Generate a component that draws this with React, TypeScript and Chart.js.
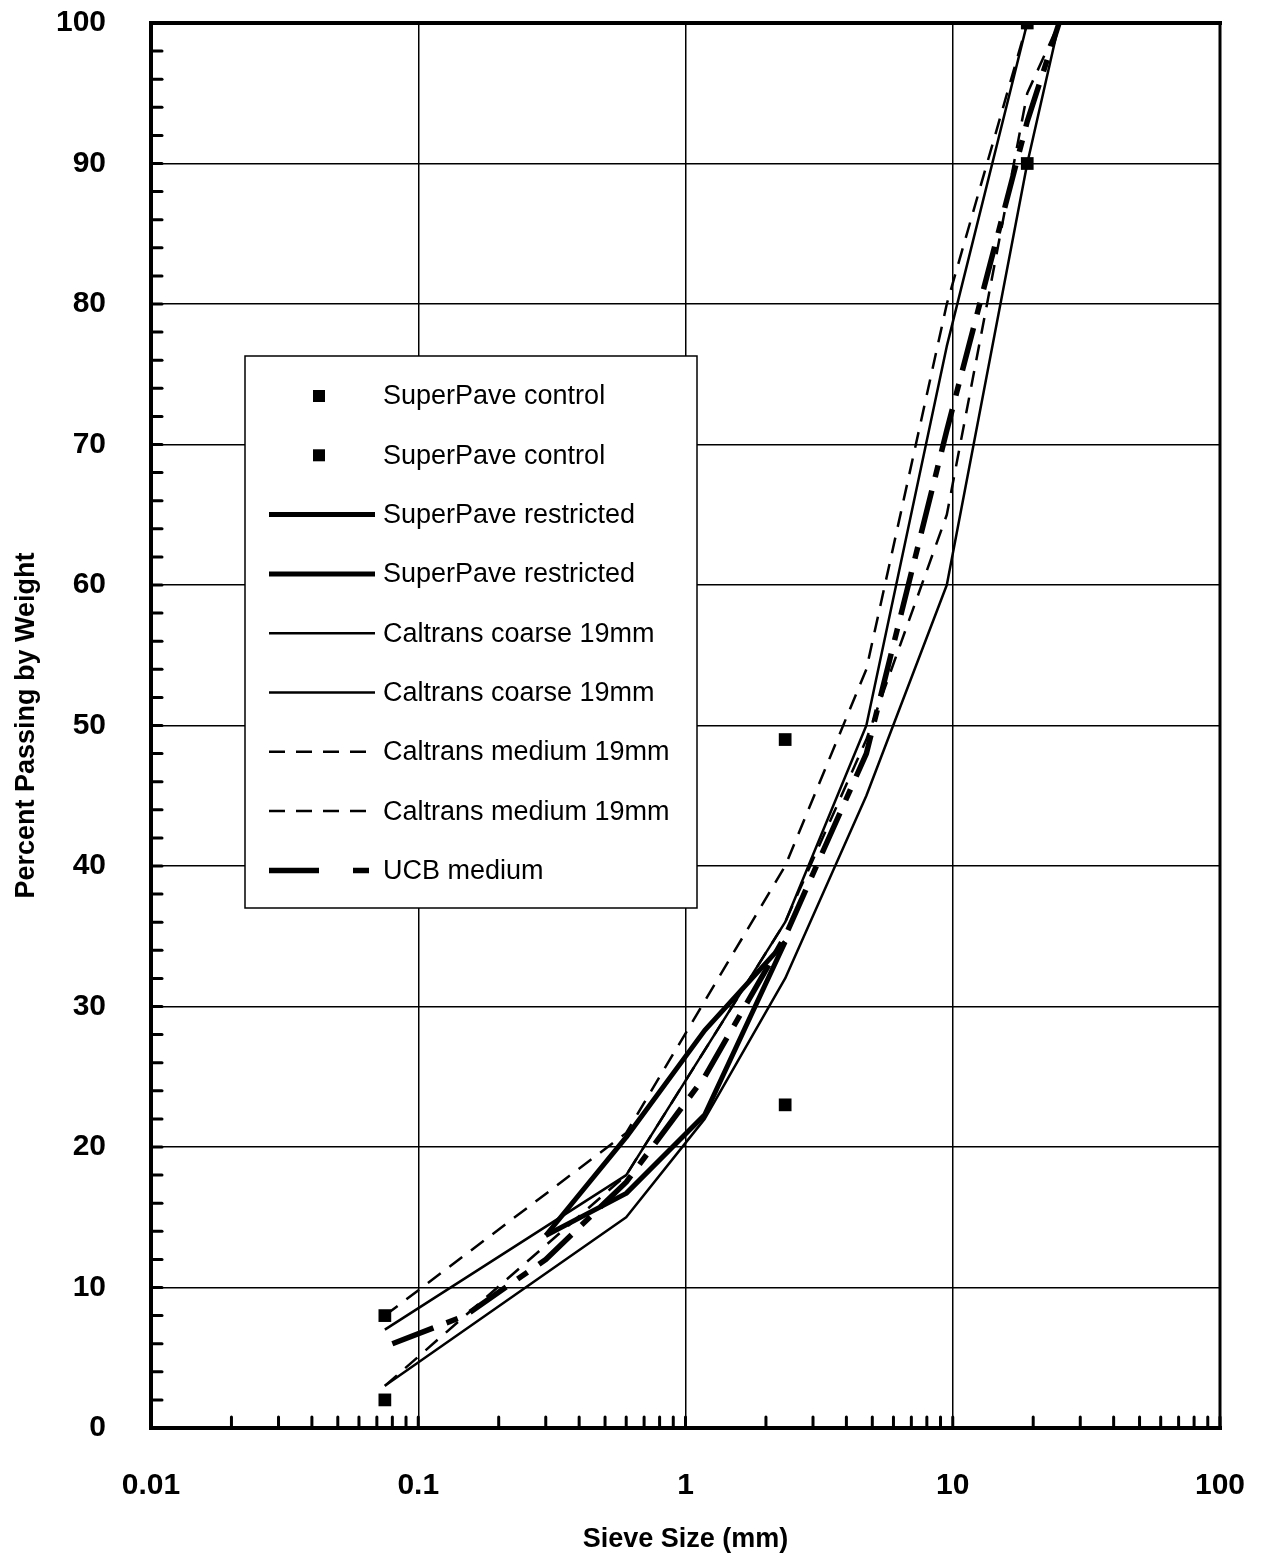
import React, { useEffect, useRef } from "react";
import { Chart, registerables } from "chart.js";

Chart.register(...registerables);

// ---------- data (sieve size in mm, percent passing) ----------
const controlSieves = [0.075, 2.36, 19];
const controlLower = [2, 23, 90];
const controlUpper = [8, 49, 100];

const restrictedSieves = [0.3, 0.6, 1.18, 2.36];
const restrictedUpper = [13.7, 20.7, 28.3, 34.6];
const restrictedLower = [13.7, 16.7, 22.3, 34.6];

const coarseLowerSieves = [0.075, 0.6, 1.18, 2.36, 4.75, 9.5, 19, 25];
const coarseLower = [3, 15, 22, 32, 45, 60, 90, 100];
const coarseUpperSieves = [0.075, 0.6, 2.36, 4.75, 9.5, 19];
const coarseUpper = [7, 18, 36, 50, 77, 100];

const mediumLowerSieves = [0.075, 0.6, 2.36, 4.75, 9.5, 19, 25];
const mediumLower = [3, 18, 36, 49, 65, 95, 100];
const mediumUpperSieves = [0.075, 0.6, 2.36, 4.75, 9.5, 19];
const mediumUpper = [8, 21, 40, 54, 80, 100];

const ucbSieves = [0.08, 0.15, 0.3, 0.6, 1.18, 2.36, 4.75, 9.5, 19, 25];
const ucbMedium = [6, 8, 12, 17.5, 25, 35, 48, 71, 93, 100];

const xDecades = [0.01, 0.1, 1, 10];
const xMultipliers = [1, 2, 3, 4, 5, 6, 7, 8, 9];
const xMax = 100;
const yMin = 0;
const yMax = 100;
const yStep = 2;
const yLabelStep = 10;

const xTitle = "Sieve Size (mm)";
const yTitle = "Percent Passing by Weight";

const FONT = "'Liberation Sans', Arial, Helvetica, sans-serif";

const pts = (xs: number[], ys: number[]) => xs.map((x, i) => ({ x, y: ys[i] }));
const isDecade = (v: number) => {
  const l = Math.log10(v);
  return Math.abs(l - Math.round(l)) < 1e-9;
};

const overlayPlugin = {
  id: "overlay",
  afterDatasetsDraw(chart: any) {
    const { ctx, chartArea: ca } = chart;
    // legend box
    const bx = ca.left + 94;
    const by = ca.top + 333;
    const bw = 452;
    const bh = 552;
    ctx.save();
    ctx.fillStyle = "#fff";
    ctx.fillRect(bx, by, bw, bh);
    ctx.strokeStyle = "#000";
    ctx.lineWidth = 1.5;
    ctx.strokeRect(bx, by, bw, bh);
    const rowH = 59.3;
    chart.data.datasets.forEach((ds: any, i: number) => {
      const cy = by + 40 + i * rowH;
      ctx.strokeStyle = "#000";
      ctx.fillStyle = "#000";
      if (ds.showLine === false) {
        ctx.fillRect(bx + 68, cy - 6, 12, 12);
      } else {
        ctx.lineWidth = ds.borderWidth;
        ctx.lineCap = "butt";
        ctx.setLineDash(ds.legendDash || ds.borderDash || []);
        ctx.beginPath();
        ctx.moveTo(bx + 24, cy);
        ctx.lineTo(bx + 130, cy);
        ctx.stroke();
        ctx.setLineDash([]);
      }
      ctx.font = "27px " + FONT;
      ctx.textBaseline = "middle";
      ctx.textAlign = "left";
      ctx.fillText(ds.label, bx + 138, cy + 1);
    });
    ctx.restore();
  },
  afterDraw(chart: any) {
    const { ctx, chartArea: ca, scales } = chart;
    const xs = scales.x;
    const ys = scales.y;
    ctx.save();
    ctx.strokeStyle = "#000";
    ctx.lineCap = "round";
    ctx.lineWidth = 3;
    ys.ticks.forEach((t: any) => {
      const py = ys.getPixelForValue(t.value);
      ctx.beginPath();
      ctx.moveTo(ca.left, py);
      ctx.lineTo(ca.left + 11, py);
      ctx.stroke();
    });
    xs.ticks.forEach((t: any) => {
      const px = xs.getPixelForValue(t.value);
      ctx.beginPath();
      ctx.moveTo(px, ca.bottom);
      ctx.lineTo(px, ca.bottom - 11);
      ctx.stroke();
    });
    ctx.lineCap = "square";
    ctx.lineWidth = 4;
    ctx.beginPath();
    ctx.moveTo(ca.left, ca.top);
    ctx.lineTo(ca.right, ca.top);
    ctx.moveTo(ca.left, ca.top);
    ctx.lineTo(ca.left, ca.bottom);
    ctx.lineTo(ca.right, ca.bottom);
    ctx.stroke();
    ctx.lineWidth = 3;
    ctx.beginPath();
    ctx.moveTo(ca.right, ca.top);
    ctx.lineTo(ca.right, ca.bottom);
    ctx.stroke();
    ctx.restore();
  },
};

export default function App() {
  const ref = useRef<HTMLCanvasElement | null>(null);

  useEffect(() => {
    document.body.style.margin = "0";
    const canvas = ref.current;
    if (!canvas) return;
    Chart.defaults.font.family = FONT;
    Chart.defaults.color = "#000";

    const xTicks: number[] = [];
    xDecades.forEach((d) => xMultipliers.forEach((m) => xTicks.push(+(m * d).toPrecision(3))));
    xTicks.push(xMax);

    const lineBase = {
      borderColor: "#000",
      backgroundColor: "#000",
      pointRadius: 0,
      tension: 0,
      fill: false,
      borderJoinStyle: "round",
    };

    const markerBase = {
      showLine: false,
      pointStyle: "rect",
      pointRadius: 9,
      borderWidth: 0,
      backgroundColor: "#000",
      borderColor: "#000",
    };

    const chart = new Chart(canvas, {
      type: "line",
      data: {
        datasets: [
          { ...markerBase, label: "SuperPave control", data: pts(controlSieves, controlLower) },
          { ...markerBase, label: "SuperPave control", data: pts(controlSieves, controlUpper) },
          { ...lineBase, label: "SuperPave restricted", data: pts(restrictedSieves, restrictedLower), borderWidth: 5 },
          { ...lineBase, label: "SuperPave restricted", data: pts(restrictedSieves, restrictedUpper), borderWidth: 5 },
          { ...lineBase, label: "Caltrans coarse 19mm", data: pts(coarseLowerSieves, coarseLower), borderWidth: 2.5 },
          { ...lineBase, label: "Caltrans coarse 19mm", data: pts(coarseUpperSieves, coarseUpper), borderWidth: 2.5 },
          { ...lineBase, label: "Caltrans medium 19mm", data: pts(mediumLowerSieves, mediumLower), borderWidth: 2.5, borderDash: [16, 11] },
          { ...lineBase, label: "Caltrans medium 19mm", data: pts(mediumUpperSieves, mediumUpper), borderWidth: 2.5, borderDash: [16, 11] },
          {
            ...lineBase,
            label: "UCB medium",
            data: pts(ucbSieves, ucbMedium),
            borderWidth: 5.5,
            borderDash: [44, 14, 12, 14],
            legendDash: [50, 34, 16, 100],
          },
        ] as any,
      },
      options: {
        animation: false,
        responsive: false,
        devicePixelRatio: 1,
        layout: { padding: { top: 23, right: 41, left: 0, bottom: 0 } },
        plugins: { legend: { display: false }, tooltip: { enabled: false } },
        scales: {
          x: {
            type: "logarithmic",
            min: xTicks[0],
            max: xMax,
            afterBuildTicks: (s: any) => {
              s.ticks = xTicks.map((v) => ({ value: v }));
            },
            afterFit: (s: any) => {
              s.height = 132;
              s.paddingLeft = 0;
              s.paddingRight = 0;
            },
            border: { display: false },
            grid: {
              drawTicks: false,
              lineWidth: 1.5,
              color: (c: any) => (c.tick && isDecade(c.tick.value) ? "#000" : "rgba(0,0,0,0)"),
            },
            ticks: {
              autoSkip: false,
              maxRotation: 0,
              padding: 40,
              color: "#000",
              font: { size: 30, weight: "bold" },
              callback: (v: any) => (isDecade(Number(v)) ? String(Number(v)) : ""),
            },
            title: {
              display: true,
              text: xTitle,
              color: "#000",
              font: { size: 27, weight: "bold" },
              padding: { top: 0, bottom: 4 },
            },
          },
          y: {
            type: "linear",
            min: yMin,
            max: yMax,
            afterFit: (s: any) => {
              s.width = 151;
              s.paddingTop = 0;
              s.paddingBottom = 0;
            },
            border: { display: false },
            grid: {
              drawTicks: false,
              lineWidth: 1.5,
              color: (c: any) => (c.tick && c.tick.value % yLabelStep === 0 ? "#000" : "rgba(0,0,0,0)"),
            },
            ticks: {
              stepSize: yStep,
              autoSkip: false,
              padding: 45,
              color: "#000",
              font: { size: 30, weight: "bold" },
              callback: (v: any) => (Number(v) % yLabelStep === 0 ? String(v) : ""),
            },
            title: {
              display: true,
              text: yTitle,
              color: "#000",
              font: { size: 27, weight: "bold" },
              padding: { top: 10, bottom: 0 },
            },
          },
        },
      } as any,
      plugins: [overlayPlugin],
    });
    return () => chart.destroy();
  }, []);

  return (
    <div style={{ width: 1261, height: 1560, background: "#fff" }}>
      <canvas ref={ref} width={1261} height={1560} style={{ display: "block" }} />
    </div>
  );
}
